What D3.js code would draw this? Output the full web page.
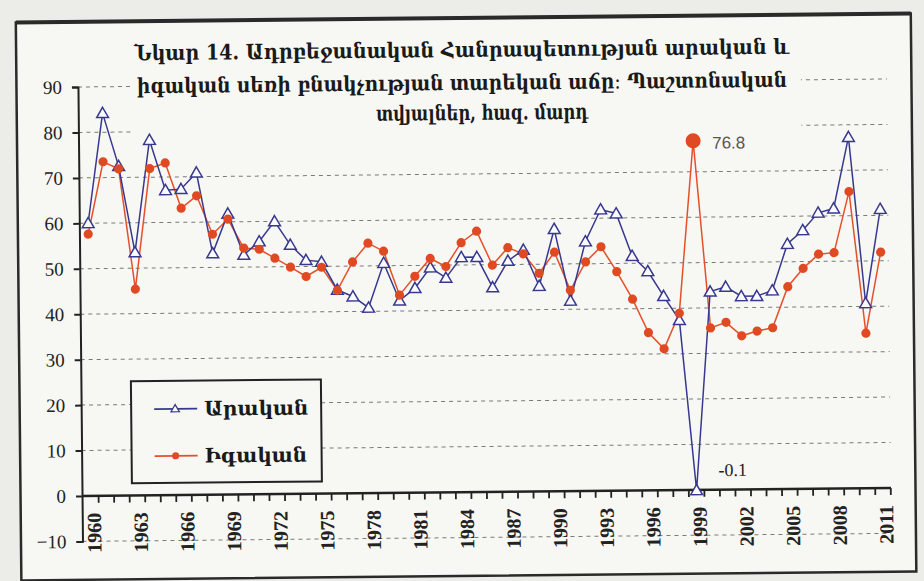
<!DOCTYPE html>
<html><head><meta charset="utf-8">
<script src="https://cdn.jsdelivr.net/npm/d3@7"></script>
<style>html,body{margin:0;padding:0;background:#eeeeea;}svg{display:block;}</style>
</head><body><svg id="c" width="924" height="581"></svg>
<script>
const years = [1960,1961,1962,1963,1964,1965,1966,1967,1968,1969,1970,1971,1972,1973,1974,1975,1976,1977,1978,1979,1980,1981,1982,1983,1984,1985,1986,1987,1988,1989,1990,1991,1992,1993,1994,1995,1996,1997,1998,1999,2000,2001,2002,2003,2004,2005,2006,2007,2008,2009,2010,2011];
const male = [60.0,84.2,72.5,53.5,78.2,67.1,67.3,70.9,53.1,61.8,52.7,55.6,60.0,54.8,51.4,51.0,44.8,43.3,40.8,50.6,42.3,45.0,49.5,47.2,51.7,51.7,45.0,50.8,53.2,45.2,57.7,41.9,54.9,61.9,61.0,51.6,48.2,42.7,37.4,-0.1,43.6,44.6,42.5,42.5,43.7,53.9,56.9,60.7,61.6,77.3,40.7,61.4];
const female = [57.6,73.5,71.9,45.4,71.9,73.1,63.1,65.8,57.3,60.6,54.2,53.9,51.9,49.9,47.8,49.8,44.7,50.9,55.0,53.2,43.5,47.6,51.5,49.7,54.9,57.4,49.9,53.7,52.3,48.0,52.6,44.2,50.4,53.7,48.2,42.1,34.7,31.1,38.9,76.8,35.6,36.8,33.8,34.8,35.5,44.5,48.5,51.6,51.9,65.3,34.1,51.9];
const yTicks = [-10,0,10,20,30,40,50,60,70,80,90];
const xLabels = [1960,1963,1966,1969,1972,1975,1978,1981,1984,1987,1990,1993,1996,1999,2002,2005,2008,2011];
const titleLines = ["Նկար 14. Ադրբեջանական Հանրապետության արական և","իգական սեռի բնակչության տարեկան աճը։ Պաշտոնական","տվյալներ, հազ. մարդ"];
const seriesNames = ["Արական","Իգական"];
const annotations = [{year:1999, series:"female", text:"76.8"},{year:1999, series:"male", text:"-0.1"}];

const svg = d3.select("#c");
const W = 924, H = 581;
const maleColor = "#38388e", femaleColor = "#e5502a", femaleFill = "#e04a22";
const bg = "#f7f7f3";
svg.append("rect").attr("width",W).attr("height",H).attr("fill","#ecece8");
const root = svg.append("g").attr("transform","rotate(-0.57,462,290)");

root.append("rect").attr("x",18.5).attr("y",18).attr("width",895).attr("height",558)
  .attr("fill",bg).attr("stroke","#2a2a2a").attr("stroke-width",2.5);
root.append("line").attr("x1",18.5).attr("x2",913.5).attr("y1",18).attr("y2",18).attr("stroke","#2a2a2a").attr("stroke-width",4);

const x = d3.scalePoint().domain(years).range([88.8, 881]);
const step = x.step();
const y = d3.scaleLinear().domain([-10,90]).range([537.6, 83.2]);
const plotL = 80, plotR = 889;

// gridlines
root.append("g").selectAll("line").data(yTicks.filter(d=>d!==0)).join("line")
  .attr("x1",plotL).attr("x2",plotR).attr("y1",d=>y(d)).attr("y2",d=>y(d))
  .attr("stroke","#7a7a7a").attr("stroke-width",1).attr("stroke-dasharray","4,4");

// title box covering gridlines
root.append("rect").attr("x",135).attr("y",28).attr("width",668).attr("height",106).attr("fill",bg);

// y axis
const yAxis = d3.axisLeft(y).tickValues(yTicks).tickSize(6).tickPadding(10);
const gy = root.append("g").attr("transform",`translate(${plotL},0)`).call(yAxis);
gy.select(".domain").attr("stroke","#222").attr("stroke-width",2);
gy.selectAll(".tick line").attr("stroke","#222").attr("stroke-width",2);
gy.selectAll(".tick text").attr("font-family","'Liberation Serif',serif").attr("font-size",19).attr("fill","#222");

// x axis at y=0 with ticks between categories
const gx = root.append("g").attr("transform",`translate(0,${y(0)})`);
gx.append("line").attr("x1",plotL).attr("x2",plotR).attr("stroke","#222").attr("stroke-width",2.5);
gx.selectAll("line.tk").data(years).join("line").attr("class","tk")
  .attr("x1",d=>x(d)+step/2).attr("x2",d=>x(d)+step/2).attr("y1",0).attr("y2",7)
  .attr("stroke","#222").attr("stroke-width",1.8);
gx.selectAll("text").data(xLabels).join("text")
  .attr("transform",d=>`translate(${x(d)+3},17) rotate(-90)`)
  .attr("text-anchor","end").attr("dy","0.35em")
  .attr("font-family","'Liberation Serif',serif").attr("font-weight","bold").attr("font-size",20)
  .attr("fill","#222").text(d=>d);

// lines
const lineGen = vals => d3.line().x((d,i)=>x(years[i])).y(d=>y(d))(vals);
root.append("path").attr("d",lineGen(female)).attr("fill","none").attr("stroke",femaleColor).attr("stroke-width",1.5);
root.append("path").attr("d",lineGen(male)).attr("fill","none").attr("stroke",maleColor).attr("stroke-width",1.5);

// markers
const tri = d3.symbol().type(d3.symbolTriangle).size(60);
root.append("g").selectAll("path").data(male).join("path")
  .attr("d",tri).attr("transform",(d,i)=>`translate(${x(years[i])},${y(d)+1})`)
  .attr("fill","#fafaff").attr("stroke",maleColor).attr("stroke-width",1.5);
root.append("g").selectAll("circle").data(female).join("circle")
  .attr("cx",(d,i)=>x(years[i])).attr("cy",d=>y(d))
  .attr("r",(d,i)=>years[i]===1999?7.5:4.6).attr("fill",femaleFill);

// annotations
const fa = annotations[0], ma = annotations[1];
root.append("text").attr("x",x(fa.year)+19).attr("y",y(female[years.indexOf(fa.year)])+8)
  .attr("font-family","'Liberation Sans',Arial,sans-serif").attr("font-size",17).attr("fill","#555").text(fa.text);
root.append("text").attr("x",x(ma.year)+22).attr("y",y(male[years.indexOf(ma.year)])-14)
  .attr("font-family","'Liberation Serif',serif").attr("font-size",18).attr("fill","#222").text(ma.text);

// title
const tf = "'DejaVu Serif','DejaVu Sans',serif";
const tl = [{y:57,len:655},{y:90,len:650},{y:120,len:212}];
root.append("g").selectAll("text").data(titleLines).join("text")
  .attr("x",(d,i)=>i===2?484:464).attr("y",(d,i)=>tl[i].y).attr("text-anchor","middle")
  .attr("font-family",tf).attr("font-weight","bold").attr("font-size",21).attr("fill","#1a1a1a")
  .attr("textLength",(d,i)=>tl[i].len).attr("lengthAdjust","spacingAndGlyphs").text(d=>d);

// legend
const lg = root.append("g");
lg.append("rect").attr("x",130).attr("y",378).attr("width",190).attr("height",102)
  .attr("fill",bg).attr("stroke","#222").attr("stroke-width",2);
const rows = [{name:seriesNames[0],c:maleColor,y:406,t:"tri"},{name:seriesNames[1],c:femaleColor,y:453,t:"circ"}];
rows.forEach(r=>{
  lg.append("line").attr("x1",153).attr("x2",196).attr("y1",r.y).attr("y2",r.y).attr("stroke",r.c).attr("stroke-width",1.8);
  if(r.t==="tri") lg.append("path").attr("d",d3.symbol().type(d3.symbolTriangle).size(30)()).attr("transform",`translate(174,${r.y+0.5})`).attr("fill","#fafaff").attr("stroke",r.c).attr("stroke-width",1.3);
  else lg.append("circle").attr("cx",174).attr("cy",r.y).attr("r",3.5).attr("fill",femaleFill);
  lg.append("text").attr("x",203).attr("y",r.y).attr("dy","0.35em").attr("font-family",tf).attr("font-weight","bold")
    .attr("font-size",20).attr("fill","#1a1a1a").text(r.name);
});
</script></body></html>
